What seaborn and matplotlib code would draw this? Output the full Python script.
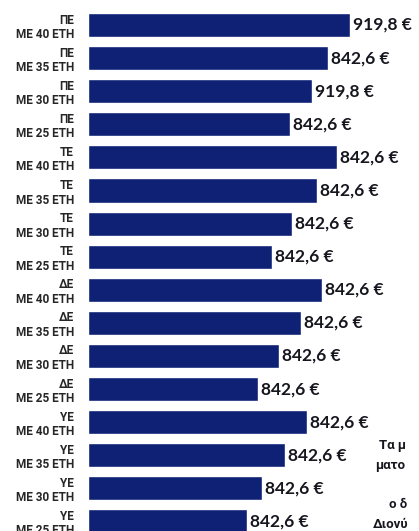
import matplotlib
matplotlib.use("Agg")
import matplotlib.pyplot as plt
import seaborn as sns
import pandas as pd

groups = ["ΠΕ"] * 4 + ["ΤΕ"] * 4 + ["ΔΕ"] * 4 + ["ΥΕ"] * 4
years = ["ΜΕ 40 ΕΤΗ", "ΜΕ 35 ΕΤΗ", "ΜΕ 30 ΕΤΗ", "ΜΕ 25 ΕΤΗ"] * 4
# pictogram bar lengths as drawn (not proportional to amounts)
bar_len = [262, 240, 224, 202, 249, 229, 204, 184, 234, 213, 191, 170, 219, 197, 174, 159]
amounts = ["919,8 €", "842,6 €", "919,8 €", "842,6 €",
           "842,6 €", "842,6 €", "842,6 €", "842,6 €",
           "842,6 €", "842,6 €", "842,6 €", "842,6 €",
           "842,6 €", "842,6 €", "842,6 €", "842,6 €"]

labels = [f"{g}\n{y}" for g, y in zip(groups, years)]
df = pd.DataFrame({"label": labels, "len": bar_len})

sns.set_style("white")
plt.rcParams["font.family"] = ["Lato", "DejaVu Sans"]
greek = ["Roboto", "Noto Sans", "DejaVu Sans"]

W, H = 419, 531
fig = plt.figure(figsize=(W / 100, H / 100), dpi=100)
left = 88
ax = fig.add_axes([left / W, 0, 1 - left / W, 1])

sns.barplot(data=df, x="len", y="label", order=labels, orient="h",
            color="#0e2175", saturation=1, width=0.73, ax=ax)

row = 33.1
top_c = 25
y_top = -top_c / row
ax.set_ylim(y_top + H / row, y_top)
ax.set_xlim(0, W - left)

ax.bar_label(ax.containers[0], labels=amounts, padding=2,
             fontsize=12.5, color="#16161f", fontweight="bold")

ax.set_xlabel("")
ax.set_ylabel("")
ax.set_xticks([])
ax.tick_params(axis="y", length=0, pad=10)
ax.set_yticks(range(len(labels)))
ax.set_yticklabels(labels, fontsize=8.5, fontweight="bold", color="#262626",
                   ha="right", linespacing=1.15, family=greek)
sns.despine(ax=ax, left=True, bottom=True)

# partial text of the neighbouring column, cut by the image edge
side = [("Τα μ", 379, 446), ("ματο", 375, 465), ("ο δ", 389, 505), ("Διονύ", 373, 525)]
for s, x, y in side:
    fig.text(x / W, 1 - y / H, s, fontsize=9.5, fontweight="bold", family=greek,
             color="#16161f", va="center", ha="left")

fig.savefig("out.png", dpi=100)
